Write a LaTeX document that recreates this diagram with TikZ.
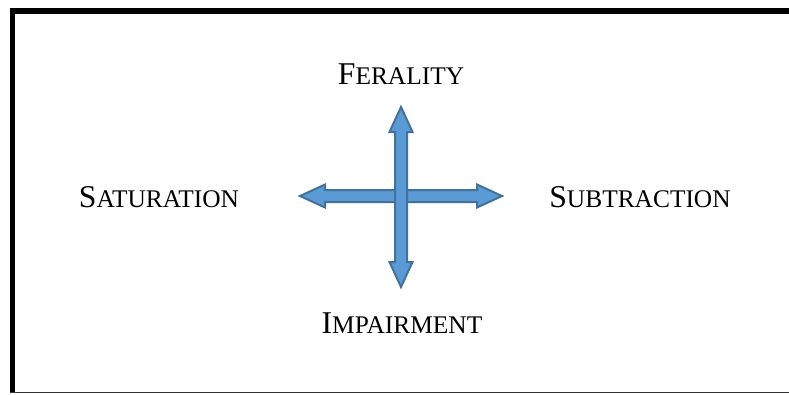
\documentclass[tikz,border=0pt]{standalone}
\usepackage{fontspec}
\setmainfont{Liberation Serif}
\usepackage{xcolor}

\definecolor{arrowfill}{HTML}{5B9BD5}
\definecolor{arrowline}{HTML}{41719C}

% word in small caps: first letter big, rest smaller
\newcommand{\capword}[2]{#1{\fontsize{25.4}{25.4}\selectfont #2}}

\begin{document}
\begin{tikzpicture}[x=1pt, y=-1pt,
    lbl/.style={anchor=base, inner sep=0pt, font=\fontsize{31.7}{31.7}\selectfont},
    blockarrow/.style={fill=arrowfill, draw=arrowline, line width=2pt, line join=miter}]

\useasboundingbox (0,0) rectangle (789,394);

% Frame
\draw[line width=6pt] (10,11) -- (795,11);
\draw[line width=5pt] (12.5,8) -- (12.5,393);
\draw[line width=1.2pt, black!80] (10,392.4) -- (795,392.4);

% Labels
\node[lbl] (feral) at (401,84) {\capword{F}{ERALITY}};
\node[lbl] (satur) at (159,207.5) {\capword{S}{ATURATION}};
\node[lbl] (subtr) at (640,207.5) {\capword{S}{UBTRACTION}};
\node[lbl] (impair) at (402,333) {\capword{I}{MPAIRMENT}};

% Arrow tips
\coordinate (ftip) at (401,107);
\coordinate (itip) at (401,287);
\coordinate (stip) at (300,196);
\coordinate (btip) at (502,196);

% Horizontal double arrow
\draw[blockarrow] (stip) -- ++(25,-11.5) -- ++(0,5.5) -- ++(152,0) -- ++(0,-5.5) -- (btip)
    -- ++(-25,11.5) -- ++(0,-5.5) -- ++(-152,0) -- ++(0,5.5) -- cycle;

% Vertical double arrow
\draw[blockarrow] (ftip) -- ++(11.5,25) -- ++(-5.5,0) -- ++(0,130) -- ++(5.5,0) -- (itip)
    -- ++(-11.5,-25) -- ++(5.5,0) -- ++(0,-130) -- ++(-5.5,0) -- cycle;

\end{tikzpicture}
\end{document}
